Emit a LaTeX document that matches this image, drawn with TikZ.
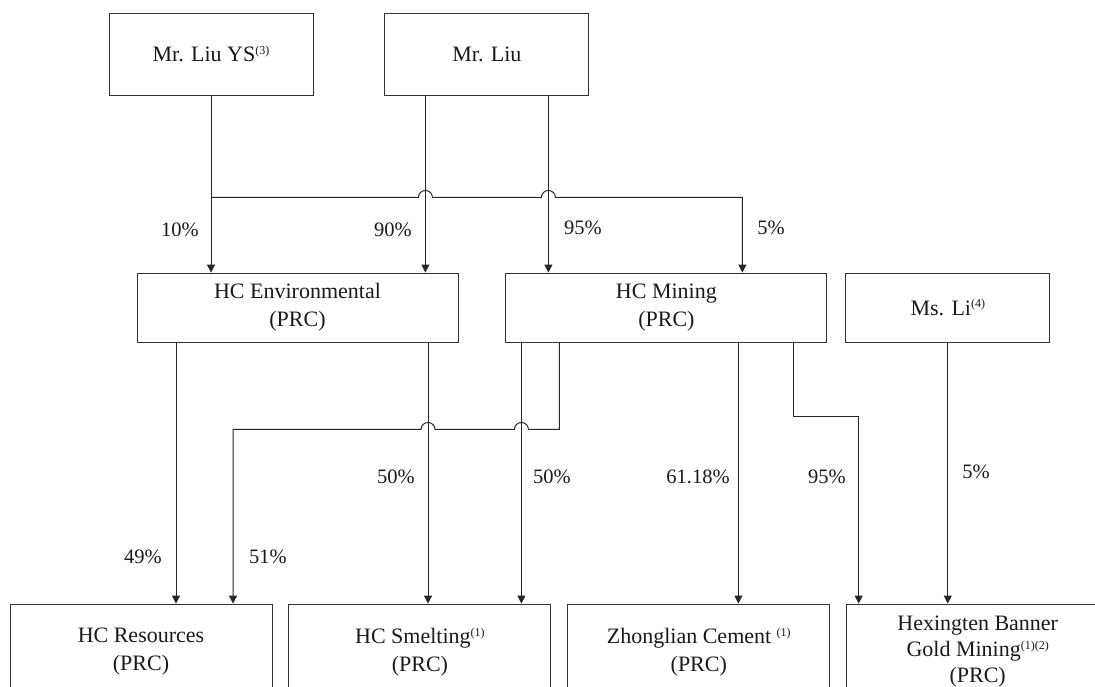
\documentclass[tikz,border=0pt]{standalone}
\usepackage{fontspec}
\setmainfont{Liberation Serif}
\usepackage{tikz}
\usetikzlibrary{positioning,calc,arrows.meta}

\newcommand{\note}[1]{\raisebox{.75ex}{\fontsize{12}{12}\selectfont #1}}

\begin{document}
\begin{tikzpicture}
    [ x = 1pt, y = 1pt
    , >= {Triangle[length=8pt,width=8pt]}
    , box/.style =
      { draw=black!80, line width=.9pt, rectangle, align=center, inner sep=2pt
      , text=black!90, font=\fontsize{22}{28}\selectfont }
    , topbox/.style =
      { box, minimum width=204pt, minimum height=82pt }
    , midbox/.style =
      { box, minimum width=321pt, minimum height=69pt }
    , lowbox/.style =
      { box, minimum width=262pt, minimum height=96pt }
    , edge/.style =
      { draw=black!85, line width=1pt }
    , pct/.style =
      { inner sep=0pt, text=black!90, font=\fontsize{20.5}{24}\selectfont }
    ]
    \useasboundingbox (0,0) rectangle (1095,-686);

    \node [topbox] (liuys) at (211,-54) {Mr. Liu YS\note{(3)}};
    \node [topbox] (liu) [right=71pt of liuys] {Mr. Liu};

    \node [midbox] (env) at (297.5,-307.5) {HC Environmental\\(PRC)};
    \node [midbox] (mining) [right=47pt of env] {HC Mining\\(PRC)};
    \node [topbox,minimum height=69pt] (li) [right=18pt of mining] {Ms. Li\note{(4)}};

    \node [lowbox] (res) at (141,-652) {HC Resources\\(PRC)};
    \node [lowbox] (smelt) [right=16pt of res] {HC Smelting\note{(1)}\\(PRC)};
    \node [lowbox] (cement) [right=16pt of smelt] {Zhonglian Cement \note{(1)}\\(PRC)};
    \node [lowbox,font=\fontsize{22}{26}\selectfont] (gold) [right=16pt of cement]
      {Hexingten Banner\\Gold Mining\note{(1)(2)}\\(PRC)};

    % where the lines leave and meet the boxes
    \coordinate (bus) at ([yshift=-102pt]liuys.south);
    \coordinate (liuA) at ([xshift=-61.5pt]liu.south);
    \coordinate (liuB) at ([xshift=61.5pt]liu.south);
    \coordinate (minT) at ([xshift=76pt]mining.north);
    \coordinate (envA) at ([xshift=-121.5pt]env.south);
    \coordinate (envB) at ([xshift=130.5pt]env.south);
    \coordinate (minA) at ([xshift=-145pt]mining.south);
    \coordinate (minB) at ([xshift=-107pt]mining.south);
    \coordinate (minC) at ([xshift=72pt]mining.south);
    \coordinate (minD) at ([xshift=127pt]mining.south);
    \coordinate (busB) at ([yshift=-87pt]minB);
    \coordinate (resB) at ([xshift=92pt]res.north);
    \coordinate (goldA) at ([xshift=-119pt]gold.north);

    \draw [edge,->] (liuys.south) -- (liuys.south |- env.north);
    \draw [edge,->] (bus) -- ($(bus -| liuA)+(-7,0)$)
      arc [start angle=180, end angle=0, radius=7pt]
      -- ($(bus -| liuB)+(-7,0)$)
      arc [start angle=180, end angle=0, radius=7pt]
      -- (bus -| minT) -- (minT);
    \draw [edge,->] (liuA) -- (liuA |- env.north);
    \draw [edge,->] (liuB) -- (liuB |- mining.north);

    \draw [edge,->] (envA) -- (envA |- res.north);
    \draw [edge,->] (envB) -- (envB |- smelt.north);
    \draw [edge,->] (minA) -- (minA |- smelt.north);
    \draw [edge,->] (minB) -- (busB) -- ($(busB -| minA)+(7,0)$)
      arc [start angle=0, end angle=180, radius=7pt]
      -- ($(busB -| envB)+(7,0)$)
      arc [start angle=0, end angle=180, radius=7pt]
      -- (busB -| resB) -- (resB);
    \draw [edge,->] (minC) -- (minC |- cement.north);
    \draw [edge,->] (minD) -- ++(0,-74) -| (goldA);
    \draw [edge,->] (li.south) -- (li.south |- gold.north);

    \node [pct] (p10) at (180,-230) {10\%};
    \node [pct] (p90) at (393,-230) {90\%};
    \node [pct] (p95) at (583,-228) {95\%};
    \node [pct] (p5) at (771,-228) {5\%};
    \node [pct] (p49) at (143,-557) {49\%};
    \node [pct] (p51) at (268,-557) {51\%};
    \node [pct] (p50a) at (396,-477) {50\%};
    \node [pct] (p50b) at (552,-477) {50\%};
    \node [pct] (p61) at (698,-477) {61.18\%};
    \node [pct] (p95b) at (827,-477) {95\%};
    \node [pct] (p5b) at (976,-472) {5\%};
\end{tikzpicture}
\end{document}
